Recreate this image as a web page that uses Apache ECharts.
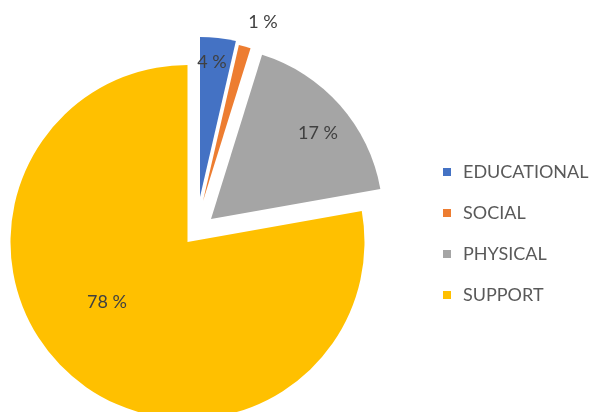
<!DOCTYPE html>
<html>
<head>
<meta charset="utf-8">
<script src="https://cdn.jsdelivr.net/npm/echarts@6/dist/echarts.min.js"></script>
<style>
  html, body { margin: 0; padding: 0; background: #fff; }
  #chart { width: 592px; height: 412px; }
</style>
</head>
<body>
<div id="chart"></div>
<script>
var categories = ["EDUCATIONAL", "SOCIAL", "PHYSICAL", "SUPPORT"];
var shares = [3.6, 1.2, 17.4, 77.8];
var colors = ["#4472C4", "#ED7D31", "#A5A5A5", "#FFC000"];

// every slice is exploded by its own amount, so each one gets its own pie
var sliceCenter = [[200, 197], [203, 201], [211, 219], [187.5, 242]];
var sliceRadius = [160, 160, 172, 177];
var labelPos = [[212, 62], [263, 22], [318, 133], [107, 302]];

var chartDom = document.getElementById("chart");
var myChart = echarts.init(chartDom);
var font = "Lato, 'Open Sans', sans-serif";

function makeSeries(k) {
  var data = categories.map(function (name, i) {
    return {
      name: name,
      value: shares[i],
      itemStyle: { color: i === k ? colors[i] : "transparent" },
      label: { show: i === k }
    };
  });
  return {
    type: "pie",
    center: sliceCenter[k],
    radius: sliceRadius[k],
    startAngle: 90,
    clockwise: true,
    avoidLabelOverlap: false,
    silent: true,
    data: data,
    label: {
      position: "inside",
      color: "#404040",
      fontFamily: font,
      fontSize: 18,
      formatter: function (p) {
        return Math.round(p.percent) + " %";
      }
    },
    labelLine: { show: false },
    labelLayout: function () {
      return {
        x: labelPos[k][0],
        y: labelPos[k][1],
        align: "center",
        verticalAlign: "middle"
      };
    },
    emphasis: { disabled: true }
  };
}

var option = {
  animation: false,
  legend: {
    orient: "vertical",
    left: 443,
    top: 163,
    padding: 0,
    itemWidth: 8,
    itemHeight: 8,
    itemGap: 23,
    icon: "rect",
    selectedMode: false,
    textStyle: {
      color: "#595959",
      fontFamily: font,
      fontSize: 18,
      padding: [0, 0, 0, 7]
    },
    data: categories.map(function (name, i) {
      return { name: name, itemStyle: { color: colors[i] } };
    })
  },
  series: [3, 2, 1, 0].map(makeSeries)
};

option && myChart.setOption(option);
</script>
</body>
</html>
